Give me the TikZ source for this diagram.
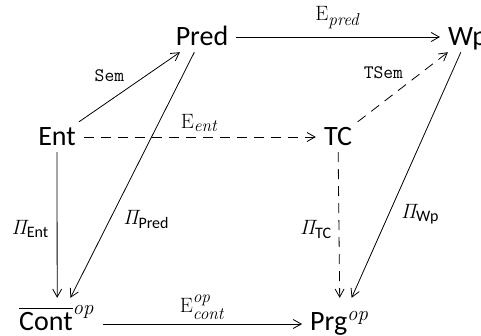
\documentclass[tikz,border=0pt]{standalone}
\usepackage{amsmath}
\usepackage[no-math]{fontspec}
\setmainfont{Carlito}
\usetikzlibrary{arrows.meta}
\DeclareMathSizes{21}{21}{16}{12}
\tikzset{
  obj/.style={font=\fontsize{28}{32}\selectfont,inner xsep=8pt,inner ysep=4pt,text height=19pt,text depth=3pt},
  objop/.style={obj,text height=28pt,text depth=16pt},
  lbl/.style={font=\fontsize{21}{24}\selectfont,inner sep=2pt},
  ttlbl/.style={lbl,font=\fontsize{19}{22}\selectfont\ttfamily},
  arrow/.style={-{Straight Barb[length=8pt,width=9pt]},line width=0.8pt},
  dasharrow/.style={arrow,dash pattern=on 10pt off 7pt}
}

\begin{document}
\begin{tikzpicture}[x=1pt,y=-1pt]
    \useasboundingbox (0,0) rectangle (481,335);
    \node[obj,anchor=base] (ent) at (57,145) {Ent};
    \node[obj,anchor=base] (pred) at (202,45) {Pred};
    \node[obj,anchor=base west] (wp) at (440,45) {Wp};
    \node[obj,anchor=base] (tc) at (338,145) {TC};
    \node[objop,anchor=base west] (cont) at (11,330) {$\overline{\text{Cont}}^{\mathit{op}}$};
    \node[objop,anchor=base west] (prg) at (302,330) {$\text{Prg}^{\mathit{op}}$};

    \draw[arrow] (pred) -- node[lbl,above=6pt] (epred) {$\mathrm{E}_{\mathit{pred}}$} (wp);
    \draw[arrow] (ent) -- node[ttlbl,pos=0.5,above left=3pt] (sem) {Sem} (pred);
    \draw[dasharrow] (ent) -- node[lbl,above=3pt] (eent) {$\mathrm{E}_{\mathit{ent}}$} (tc);
    \draw[dasharrow] (tc) -- node[ttlbl,pos=0.55,above left=2pt] (tsem) {TSem} (wp);
    \draw[arrow] (ent) -- node[lbl,pos=0.53,left=6pt] (pient) {$\mathit{\Pi}_{\text{Ent}}$} (cont);
    \draw[arrow] (pred) -- node[lbl,pos=0.68,right=11pt] (pipred) {$\mathit{\Pi}_{\text{Pred}}$} (cont);
    \draw[dasharrow] (tc) -- node[lbl,pos=0.53,left=5pt] (pitc) {$\mathit{\Pi}_{\text{TC}}$} (prg);
    \draw[arrow] (wp) -- node[lbl,pos=0.66,right=10pt] (piwp) {$\mathit{\Pi}_{\text{Wp}}$} (prg);
    \draw[arrow] (cont) -- node[lbl,above=2pt] (econt) {$\mathrm{E}^{\mathit{op}}_{\mathit{cont}}$} (prg);
\end{tikzpicture}
\end{document}
